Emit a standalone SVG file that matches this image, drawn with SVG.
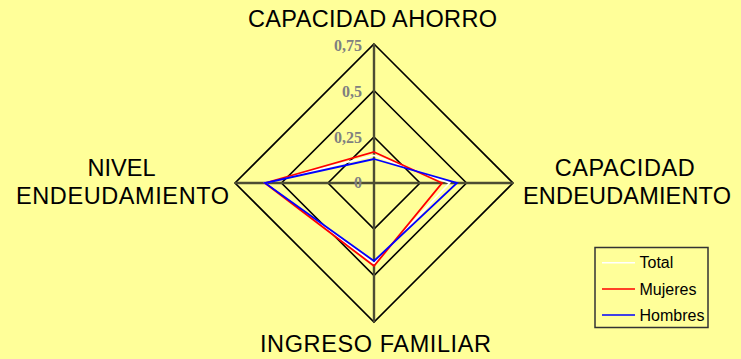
<svg xmlns="http://www.w3.org/2000/svg" width="741" height="359" viewBox="0 0 741 359">
<style>
.ring{fill:none;stroke:#000;stroke-width:1.6}
.axis{stroke:#4d4d33;stroke-width:2.4}
.tick{font-family:"Liberation Serif",serif;font-weight:bold;font-size:16px;fill:#808080;text-anchor:end}
.lbl{font-family:"Liberation Sans",Arial,sans-serif;font-size:23.5px;fill:#000}
.leg{font-family:"Liberation Sans",Arial,sans-serif;font-size:16px;fill:#000}
.series{fill:none;stroke-width:1.8;stroke-linejoin:miter}
</style>
<rect x="0" y="0" width="741" height="359" fill="#FFFF99"/>
<g id="grid">
<polygon class="ring" points="374,137 420,183 374,229 328,183"/>
<polygon class="ring" points="374,90.5 466.5,183 374,275.5 281.5,183"/>
<polygon class="ring" points="374,44 513,183 374,322 235,183"/>
<line class="axis" x1="374" y1="44" x2="374" y2="322"/>
<line class="axis" x1="235" y1="183" x2="513" y2="183"/>
</g>
<g id="ticks">
<text class="tick" x="362" y="51">0,75</text>
<text class="tick" x="362" y="97">0,5</text>
<text class="tick" x="362" y="142.5">0,25</text>
<text class="tick" x="362" y="188">0</text>
</g>
<g id="connectors">
<polygon id="total" class="series" stroke="#FFFFFF" points="374,155.5 449.5,183 374,263.5 265,183"/>
<polygon id="mujeres" class="series" stroke="#FF0000" points="374,152 442,183 374,266 265,183"/>
<polygon id="hombres" class="series" stroke="#0000FF" points="374,159 457,183 374,261 265,183"/>
</g>
<g id="node-capacidad-ahorro">
<text class="lbl" x="248" y="26.7" textLength="249" lengthAdjust="spacing">CAPACIDAD AHORRO</text>
</g>
<g id="node-nivel-endeudamiento">
<text class="lbl" x="87.5" y="176" textLength="68" lengthAdjust="spacing">NIVEL</text>
<text class="lbl" x="16" y="204" textLength="213" lengthAdjust="spacing">ENDEUDAMIENTO</text>
</g>
<g id="node-capacidad-endeudamiento">
<text class="lbl" x="554.7" y="176" textLength="140" lengthAdjust="spacing">CAPACIDAD</text>
<text class="lbl" x="523" y="204" textLength="208" lengthAdjust="spacing">ENDEUDAMIENTO</text>
</g>
<g id="node-ingreso-familiar">
<text class="lbl" x="260" y="351.7" textLength="231" lengthAdjust="spacing">INGRESO FAMILIAR</text>
</g>
<g id="legend">
<rect x="595" y="247.5" width="113" height="80" fill="#FFFF99" stroke="#333" stroke-width="1.5"/>
<line x1="602" y1="262.7" x2="635" y2="262.7" stroke="#FFFFFF" stroke-width="1.5"/>
<line x1="602" y1="289" x2="635" y2="289" stroke="#FF0000" stroke-width="1.5"/>
<line x1="602" y1="315" x2="635" y2="315" stroke="#0000FF" stroke-width="1.5"/>
<text class="leg" x="639.5" y="268">Total</text>
<text class="leg" x="639.5" y="294.5">Mujeres</text>
<text class="leg" x="639.5" y="321">Hombres</text>
</g>
</svg>
